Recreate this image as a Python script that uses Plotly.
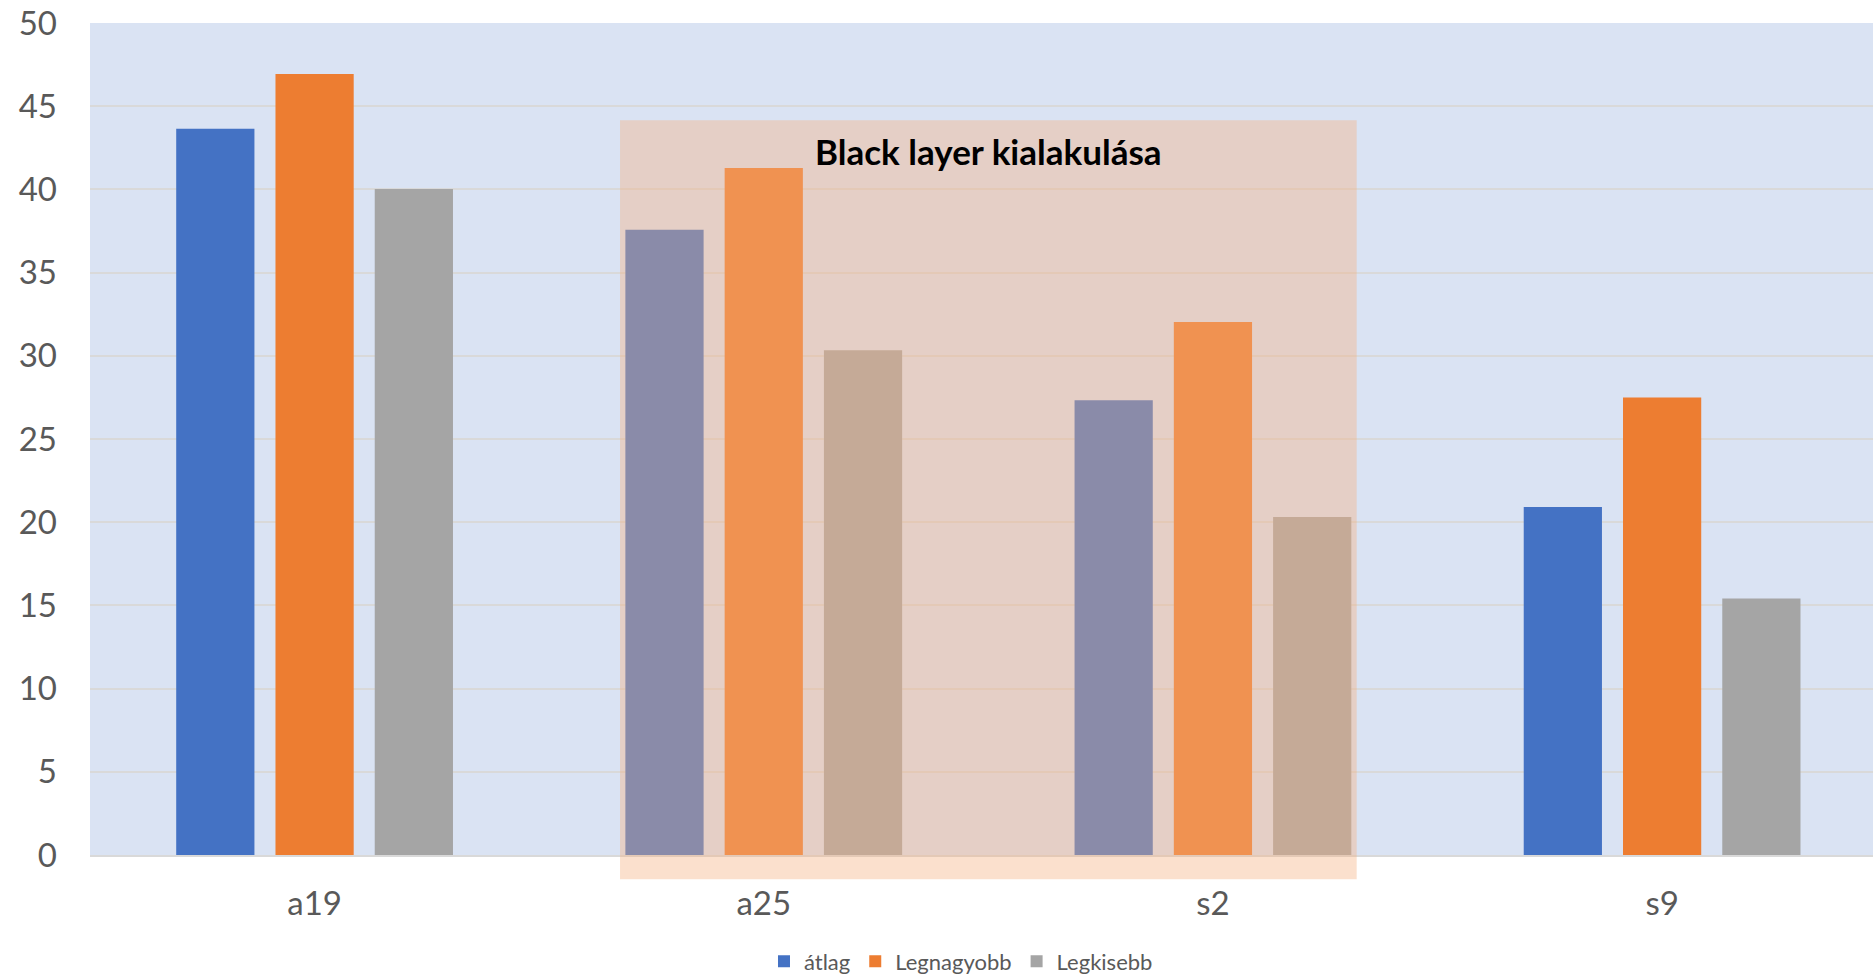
import plotly.graph_objects as go

# ---- data ----
categories = ["a19", "a25", "s2", "s9"]
atlag = [43.65, 37.58, 27.33, 20.92]
legnagyobb = [46.94, 41.29, 32.03, 27.49]
legkisebb = [40.02, 30.33, 20.32, 15.41]
series_names = ["átlag", "Legnagyobb", "Legkisebb"]
series_colors = ["#4472C4", "#ED7D31", "#A5A5A5"]
y_ticks = [0, 5, 10, 15, 20, 25, 30, 35, 40, 45, 50]
highlight_text = "Black layer kialakulása"
highlight_from, highlight_to = "a25", "s2"

# ---- layout constants ----
W, H = 1873, 977
Y_RANGE = [0, 50]
X_RANGE = [-0.5, 3.4695]
FONT = "Lato, 'Open Sans', Arial, sans-serif"
GREY_TXT = "#595959"

fig = go.Figure()
for name, vals, col in zip(series_names, [atlag, legnagyobb, legkisebb], series_colors):
    fig.add_trace(go.Bar(
        x=categories, y=vals, name=name,
        marker=dict(color=col, line=dict(width=0)),
        hoverinfo="x+y+name",
    ))

# highlight box (semi-transparent, above bars), extends a little below the axis
i0 = categories.index(highlight_from)
i1 = categories.index(highlight_to)
box_top_val, box_bottom_val = 44.15, -1.45
span = Y_RANGE[1] - Y_RANGE[0]
fig.add_shape(
    type="rect", xref="x", yref="paper",
    x0=i0 - 0.32, x1=i1 + 0.32,
    y0=(box_bottom_val - Y_RANGE[0]) / span, y1=(box_top_val - Y_RANGE[0]) / span,
    fillcolor="rgba(244,177,131,0.4)", line=dict(width=0), layer="above",
)
fig.add_annotation(
    x=(i0 + i1) / 2, y=42.3, xref="x", yref="y",
    text="<b>" + highlight_text + "</b>", showarrow=False,
    font=dict(family=FONT, size=35, color="#000000"),
    xanchor="center", yanchor="middle",
)

fig.update_layout(
    width=W, height=H,
    margin=dict(l=90, r=0, t=22.5, b=122, pad=0, autoexpand=False),
    paper_bgcolor="#FFFFFF",
    plot_bgcolor="#DAE3F3",
    barmode="group",
    bargap=0.337,
    bargroupgap=0.212,
    font=dict(family=FONT, color=GREY_TXT),
    showlegend=True,
    legend=dict(
        orientation="h", x=0.4885, xanchor="center", y=-0.128, yanchor="middle",
        font=dict(family=FONT, size=22, color=GREY_TXT),
        bgcolor="rgba(0,0,0,0)", traceorder="normal",
    ),
    xaxis=dict(
        type="category", range=X_RANGE, automargin=False,
        showgrid=False, zeroline=False,
        showline=True, linecolor="#D9D9D9", linewidth=2,
        ticks="", tickfont=dict(family=FONT, size=33, color=GREY_TXT),
        ticklabelstandoff=18,
    ),
    yaxis=dict(
        range=Y_RANGE, tickvals=y_ticks, automargin=False,
        showgrid=True, gridcolor="#D9D9D9", gridwidth=2,
        zeroline=False, showline=False, ticks="",
        tickfont=dict(family=FONT, size=33, color=GREY_TXT),
        ticklabelstandoff=32,
    ),
)

fig.write_html("out.html", include_plotlyjs=True, config={"displayModeBar": False})
